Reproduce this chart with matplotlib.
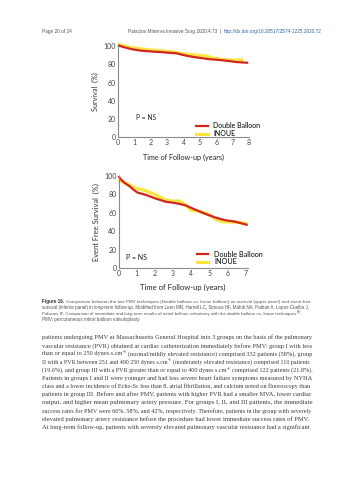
import re
import matplotlib
matplotlib.use("Agg")
import matplotlib.pyplot as plt
from matplotlib.lines import Line2D

W, H = 353, 480

# ---- data ----
surv_years_red = [0, 0.3, 0.73, 1.0, 1.34, 1.7, 2.15, 2.5, 2.97, 3.58, 3.9, 4.2, 4.6, 5.0, 5.6, 6.0, 6.4, 6.8, 7.2, 7.6, 7.95]
surv_red = [100.8, 99.0, 97.0, 96.0, 95.0, 94.5, 93.8, 93.5, 92.8, 92.0, 90.5, 89.3, 88.0, 87.0, 85.5, 85.0, 84.3, 83.5, 82.5, 82.0, 81.6]
surv_years_yel = [0, 0.4, 0.73, 1.1, 1.55, 2.0, 2.57, 3.17, 3.78, 4.2, 4.6, 5.0, 5.4, 5.8, 6.5, 7.2, 7.64]
surv_yel = [101.8, 100.0, 98.6, 97.5, 96.5, 95.6, 94.7, 93.8, 92.0, 91.0, 90.2, 89.6, 89.0, 86.6, 85.0, 84.3, 84.8]

efs_years_red = [0, 0.1, 0.3, 0.58, 0.8, 1.04, 1.5, 2.04, 2.6, 3.1, 3.67, 4.2, 4.75, 5.3, 5.85, 6.4, 6.95, 7.1]
efs_red = [100, 97, 93, 89.3, 85.5, 82.0, 79.5, 75.5, 72.0, 70.7, 68.2, 63.6, 59.0, 55.0, 52.0, 50.4, 47.5, 46.8]
efs_years_yel = [0, 0.3, 0.58, 0.95, 1.5, 2.04, 2.5, 3.0, 3.3, 3.67, 3.95, 4.3, 4.6, 4.97, 5.35, 5.7, 6.25, 6.8, 7.1]
efs_yel = [95.7, 93.0, 90.4, 86.8, 84.0, 79.5, 74.5, 72.5, 73.0, 69.0, 63.0, 62.0, 60.7, 58.2, 52.9, 50.4, 50.0, 49.3, 47.5]

yticks = [0, 20, 40, 60, 80, 100]
labels = ["Double Balloon", "INOUE"]

header_left = "Page 20 of 24"
header_mid = "Palacios Minerva Invasive Surg 2020;4:73  |  "
header_link = "http://dx.doi.org/10.20517/2574-1225.2020.72"

# ^{...} marks a superscript (at most one per line)
caption = [
    "Comparison between the two PMV techniques (Double balloon vs. Inoue balloon) on survival (upper panel) and event-free",
    "survival (inferior panel) in long-term follow-up. Modified from Leon MN, Harrell LC, Simosa HF, Mahdi NA, Pathan A, Lopez-Cuellar J,",
    "Palacios IF. Comparison of immediate and long-term results of mitral balloon valvotomy with the double balloon vs. Inoue techniques^{[60]}.",
    "PMV: percutaneous mitral balloon valvuloplasty",
]

body = [
    "patients undergoing PMV at Massachusetts General Hospital into 3 groups on the basis of the pulmonary",
    "vascular resistance (PVR) obtained at cardiac catheterization immediately before PMV: group I with less",
    "than or equal to 250 dynes.s.cm^{\u22125} (normal/mildly elevated resistance) comprised 332 patients (58%), group",
    "II with a PVR between 251 and 400 250 dynes s.cm^{\u22125} (moderately elevated resistance) comprised 110 patients",
    "(19.6%), and group III with a PVR greater than or equal to 400 dynes s.cm^{\u22125} comprised 122 patients (21.8%).",
    "Patients in groups I and II were younger and had less severe heart failure symptoms measured by NYHA",
    "class and a lower incidence of Echo-Sc less than 8, atrial fibrillation, and calcium noted on fluoroscopy than",
    "patients in group III. Before and after PMV, patients with higher PVR had a smaller MVA, lower cardiac",
    "output, and higher mean pulmonary artery pressure. For groups I, II, and III patients, the immediate",
    "success rates for PMV were 66%, 58%, and 42%, respectively. Therefore, patients in the group with severely",
    "elevated pulmonary artery resistance before the procedure had lower immediate success rates of PMV.",
    "At long-term follow-up, patients with severely elevated pulmonary vascular resistance had a significant",
]

RED = "#d3261c"
YEL = "#f7e640"
CHART_FONT = "Lato"
HDR = "Liberation Sans"
SERIF = "Liberation Serif"


def fx(x):
    return x / W


def fy(y):
    return 1 - y / H


def km_axes(fig, left, right, top, bottom, xmax, xticks):
    ax = fig.add_axes([fx(left), fy(bottom), fx(right - left), (bottom - top) / H])
    ax.set_xlim(0, xmax)
    ax.set_ylim(0, 100)
    for s in ["top", "right"]:
        ax.spines[s].set_visible(False)
    for s in ["left", "bottom"]:
        ax.spines[s].set_color("#8a8a8a")
        ax.spines[s].set_linewidth(0.8)
    ax.set_xticks(xticks)
    ax.set_yticks(yticks)
    ax.tick_params(length=0, pad=1.5, labelsize=5, colors="#444444")
    for t in ax.get_xticklabels() + ax.get_yticklabels():
        t.set_family(CHART_FONT)
    return ax


fig = plt.figure(figsize=(W / 100, H / 100), dpi=100)
fig.patch.set_facecolor("white")

# ---- upper panel: survival ----
ax1 = km_axes(fig, 118, 249, 46, 137.3, 8, range(0, 9))
ax1.plot(surv_years_yel, surv_yel, color=YEL, lw=2.4, clip_on=False, solid_capstyle="butt")
ax1.plot(surv_years_red, surv_red, color=RED, lw=1.6, clip_on=False, solid_capstyle="butt")
ax1.set_ylabel("Survival  (%)", fontsize=5.2, family=CHART_FONT, color="#333333", labelpad=3)
ax1.set_xlabel("Time of Follow-up (years)", fontsize=5.2, family=CHART_FONT, color="#222222", labelpad=5)
ax1.text(0.14, 0.19, "P = NS", transform=ax1.transAxes, fontsize=4.8, family=CHART_FONT, color="#222222")
h = [Line2D([], [], color=RED, lw=1.6), Line2D([], [], color=YEL, lw=2.2)]
ax1.legend(h, labels, loc="upper left", bbox_to_anchor=(fx(193), fy(119)), bbox_transform=fig.transFigure,
           frameon=False, handlelength=1.6, handletextpad=0.8, labelspacing=0.1, borderpad=0,
           prop={"family": CHART_FONT, "size": 5})

# ---- lower panel: event free survival ----
ax2 = km_axes(fig, 118.5, 247.7, 176, 268, 7.1, range(0, 8))
ax2.plot(efs_years_yel, efs_yel, color=YEL, lw=2.4, clip_on=False, solid_capstyle="butt")
ax2.plot(efs_years_red, efs_red, color=RED, lw=1.6, clip_on=False, solid_capstyle="butt")
ax2.set_ylabel("Event Free Survival  (%)", fontsize=5.4, family=CHART_FONT, color="#333333", labelpad=3)
ax2.set_xlabel("Time of Follow-up (years)", fontsize=5.5, family=CHART_FONT, color="#222222", labelpad=5)
ax2.text(0.06, 0.09, "P = NS", transform=ax2.transAxes, fontsize=5, family=CHART_FONT, color="#222222")
ax2.legend(h, labels, loc="upper left", bbox_to_anchor=(fx(193), fy(247)), bbox_transform=fig.transFigure,
           frameon=False, handlelength=1.6, handletextpad=0.8, labelspacing=0.1, borderpad=0,
           prop={"family": CHART_FONT, "size": 5.2})

renderer = fig.canvas.get_renderer()


def width_of(s, size, **kw):
    t = fig.text(0, 0, s, fontsize=size, **kw)
    w = t.get_window_extent(renderer).width
    t.remove()
    return w


def fit_line(line, x0, x1, y, size, stretch=True, **kw):
    # size nudged so the line spans the column like justified type;
    # a line with a superscript is split into three texts laid end to end
    parts = re.split(r"\^\{(.*?)\}", line)
    if len(parts) == 1:
        if stretch:
            size = size * (x1 - x0) / width_of(line, size, **kw)
        fig.text(fx(x0), fy(y), line, va="baseline", ha="left", fontsize=size, **kw)
        return
    pre, sup, post = parts[0], parts[1], parts[2]
    lead = post != post.lstrip()
    post = post.strip()

    def total(s):
        gap = 0.35 * s if lead else 0.25
        return (width_of(pre, s, **kw) + 0.5 + width_of(sup, 0.6 * s, **kw) + gap
                + width_of(post, s, **kw))

    if stretch:
        size = size * (x1 - x0) / total(size)
    x = x0
    fig.text(fx(x), fy(y), pre, va="baseline", ha="left", fontsize=size, **kw)
    x += width_of(pre, size, **kw) + 0.5
    fig.text(fx(x), fy(y - size * 0.5), sup, va="baseline", ha="left", fontsize=size * 0.6, **kw)
    x += width_of(sup, 0.6 * size, **kw) + (0.35 * size if lead else 0.25)
    fig.text(fx(x), fy(y), post, va="baseline", ha="left", fontsize=size, **kw)


# ---- page header ----
fig.text(fx(42), fy(33.5), header_left, fontsize=3.4, family=HDR, color="#555555", va="baseline")
t = fig.text(fx(128), fy(33.5), header_mid, fontsize=3.4, family=HDR, color="#555555", va="baseline")
x_end = t.get_window_extent(renderer).x1
fig.text(x_end / W, fy(33.5), header_link, fontsize=3.4, family=HDR, color="#2f5f9e", va="baseline")

# ---- caption ----
cap_size = 3.3
cap_y = [303.5, 309.2, 314.9, 320.6]
first = fig.text(fx(42), fy(cap_y[0]), "Figure 16.", fontsize=cap_size, family=HDR, weight="bold",
                 color="#333333", va="baseline")
fx0 = first.get_window_extent(renderer).x1 + 1.5
for i, (line, y) in enumerate(zip(caption, cap_y)):
    x0 = fx0 if i == 0 else 42
    fit_line(line, x0, 311, y, cap_size, stretch=(i < 3), family=HDR, color="#555555")

# ---- body text ----
for i, line in enumerate(body):
    fit_line(line, 42, 311, 339 + i * 8.18, 4.6, family=SERIF, color="#3a3a3a")

fig.savefig("out.png", dpi=100, facecolor="white")
